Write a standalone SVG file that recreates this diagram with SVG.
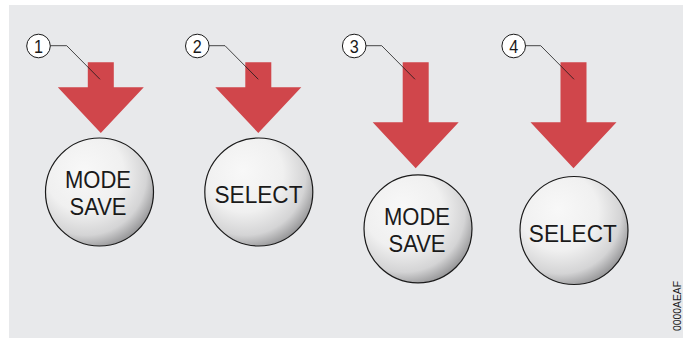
<svg xmlns="http://www.w3.org/2000/svg" width="691" height="341" viewBox="0 0 691 341">
<defs>
<radialGradient id="btn" cx="0.38" cy="0.35" r="0.72" fx="0.35" fy="0.3">
<stop offset="0" stop-color="#f8f8f8"/>
<stop offset="0.5" stop-color="#f0f0f0"/>
<stop offset="0.78" stop-color="#d4d4d5"/>
<stop offset="1" stop-color="#88888a"/>
</radialGradient>
<style>
.bg{fill:#e8e9eb}
.arrow{fill:#d0464b}
.btn{fill:url(#btn);stroke:#1a1a1a;stroke-width:1.2}
.lbl{fill:#ffffff;stroke:#1a1a1a;stroke-width:1}
.num{font-family:"Liberation Sans",Arial,sans-serif;font-size:18px;fill:#1a1a1a;text-anchor:middle}
.bt{font-family:"Liberation Sans",Arial,sans-serif;font-size:24px;fill:#1a1a1a;text-anchor:middle}
.lead{fill:none;stroke:#1a1a1a;stroke-width:0.8}
.code{font-family:"Liberation Sans",Arial,sans-serif;font-size:11px;fill:#1a1a1a;text-anchor:middle}
</style>
</defs>
<rect class="bg" x="9" y="5" width="674" height="333"/>

<g id="arrow-1"><polygon class="arrow" points="87.8,62.3 113.8,62.3 113.8,87.3 143.8,87.3 100.8,133 57.8,87.3 87.8,87.3"/></g>
<g id="arrow-2"><polygon class="arrow" points="245.3,62.3 271.3,62.3 271.3,87.3 301.3,87.3 258.3,133 215.3,87.3 245.3,87.3"/></g>
<g id="arrow-3"><polygon class="arrow" points="402.7,62.3 428.7,62.3 428.7,122.3 458.7,122.3 415.7,168.3 372.7,122.3 402.7,122.3"/></g>
<g id="arrow-4"><polygon class="arrow" points="560.5,62.3 586.5,62.3 586.5,122.3 616.5,122.3 573.5,168.3 530.5,122.3 560.5,122.3"/></g>

<g id="connectors">
<polyline class="lead" points="50.3,45.7 66.7,45.7 100,79.3"/>
<polyline class="lead" points="209.1,45.7 225,45.7 258.3,79.3"/>
<polyline class="lead" points="366,45.7 381.7,45.7 415,79.3"/>
<polyline class="lead" points="525.5,45.7 540.7,45.7 574,79.3"/>
</g>

<g id="label-1"><circle class="lbl" cx="38.5" cy="46" r="11.8"/><text class="num" x="38.5" y="52.5" textLength="9" lengthAdjust="spacingAndGlyphs">1</text></g>
<g id="label-2"><circle class="lbl" cx="197.3" cy="46" r="11.8"/><text class="num" x="197.3" y="52.5" textLength="9" lengthAdjust="spacingAndGlyphs">2</text></g>
<g id="label-3"><circle class="lbl" cx="354.2" cy="46" r="11.8"/><text class="num" x="354.2" y="52.5" textLength="9" lengthAdjust="spacingAndGlyphs">3</text></g>
<g id="label-4"><circle class="lbl" cx="513.7" cy="46" r="11.8"/><text class="num" x="513.7" y="52.5" textLength="9" lengthAdjust="spacingAndGlyphs">4</text></g>

<g id="button-1">
<circle class="btn" cx="99.5" cy="192" r="54"/>
<text class="bt" x="98" y="188.3" textLength="66" lengthAdjust="spacingAndGlyphs">MODE</text>
<text class="bt" x="98" y="215" textLength="57" lengthAdjust="spacingAndGlyphs">SAVE</text>
</g>
<g id="button-2">
<circle class="btn" cx="258.8" cy="192" r="54"/>
<text class="bt" x="258.5" y="203.3" textLength="88" lengthAdjust="spacingAndGlyphs">SELECT</text>
</g>
<g id="button-3">
<circle class="btn" cx="418" cy="228.8" r="54"/>
<text class="bt" x="417" y="225" textLength="66" lengthAdjust="spacingAndGlyphs">MODE</text>
<text class="bt" x="417" y="251.7" textLength="57" lengthAdjust="spacingAndGlyphs">SAVE</text>
</g>
<g id="button-4">
<circle class="btn" cx="574" cy="230.5" r="54"/>
<text class="bt" x="572.8" y="242.3" textLength="88" lengthAdjust="spacingAndGlyphs">SELECT</text>
</g>

<text class="code" x="0" y="0" transform="translate(681,306) rotate(-90)" textLength="50" lengthAdjust="spacingAndGlyphs">0000AEAF</text>
</svg>
